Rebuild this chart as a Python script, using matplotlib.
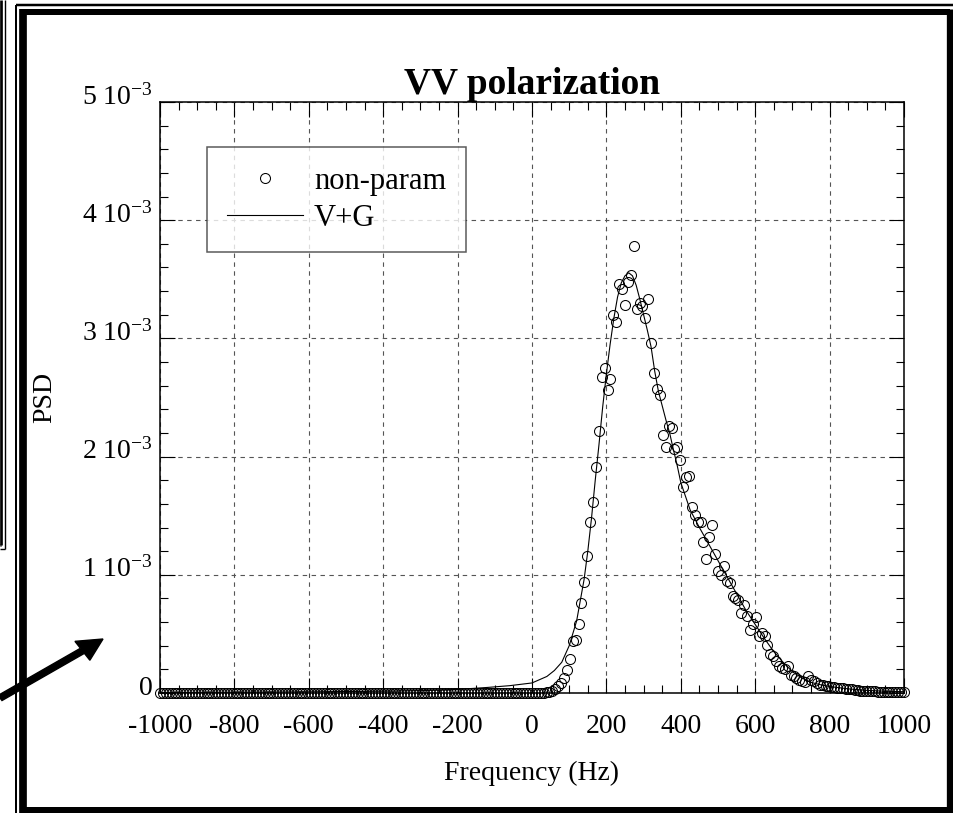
import numpy as np
import matplotlib
matplotlib.use("Agg")
import matplotlib.pyplot as plt
from matplotlib.lines import Line2D
from matplotlib.patches import FancyArrow
from matplotlib.ticker import MultipleLocator
from matplotlib.transforms import ScaledTranslation

plt.rcParams["font.family"] = ["Liberation Serif", "DejaVu Serif"]
plt.rcParams["mathtext.fontset"] = "custom"
plt.rcParams["mathtext.rm"] = "Liberation Serif"
plt.rcParams["mathtext.it"] = "Liberation Serif:italic"
plt.rcParams["mathtext.bf"] = "Liberation Serif:bold"
plt.rcParams["axes.unicode_minus"] = False

W, H = 954, 813
SCALE = 1e-3          # values below are in units of 1e-3
BIN_HZ = 7.8125       # FFT bin spacing, first bin at -1000 Hz

# non-parametric PSD estimate, one value per bin (-1000 ... 1000 Hz)
psd_nonparam = [
    0, 0, 0, 0, 0, 0, 0, 0, 0, 0, 0, 0, 0, 0, 0, 0, 0, 0, 0, 0, 0, 0,
    0, 0, 0, 0, 0, 0, 0, 0, 0, 0, 0, 0, 0, 0, 0, 0, 0, 0, 0, 0, 0, 0,
    0, 0, 0, 0, 0, 0, 0, 0, 0, 0, 0, 0, 0, 0, 0, 0, 0, 0, 0, 0, 0, 0,
    0, 0, 0, 0, 0, 0, 0, 0, 0, 0, 0, 0, 0, 0, 0, 0, 0, 0, 0, 0, 0, 0,
    0, 0, 0, 0, 0, 0, 0, 0, 0, 0, 0, 0, 0, 0, 0, 0, 0, 0, 0, 0, 0, 0,
    0, 0, 0, 0, 0, 0, 0, 0, 0, 0, 0, 0, 0, 0, 0, 0, 0, 0, 0, 0, 0, 0,
    0.003, 0.006, 0.012, 0.020, 0.035, 0.056, 0.081, 0.123, 0.194, 0.284,
    0.440, 0.450, 0.586, 0.760, 0.935, 1.163, 1.450, 1.615, 1.915, 2.215,
    2.670, 2.750, 2.560, 2.660, 3.200, 3.140, 3.460, 3.420, 3.280, 3.480,
    3.536, 3.780, 3.246, 3.300, 3.270, 3.170, 3.336, 2.964, 2.710, 2.570,
    2.520, 2.186, 2.085, 2.260, 2.243, 2.065, 2.085,
    1.970, 1.746, 1.830, 1.840, 1.570, 1.507, 1.448, 1.450, 1.281, 1.133,
    1.324, 1.425, 1.177, 1.036, 1.000, 1.073, 0.950, 0.930, 0.817, 0.800,
    0.783, 0.676, 0.746, 0.648, 0.535, 0.580, 0.640, 0.484, 0.507, 0.484,
    0.408, 0.332, 0.310, 0.270, 0.225, 0.210, 0.200, 0.225, 0.155, 0.140,
    0.130, 0.112, 0.100, 0.090, 0.140, 0.110, 0.098, 0.085, 0.070, 0.065,
    0.060, 0.056, 0.050,
    0.050, 0.045, 0.045, 0.040, 0.035, 0.030, 0.030, 0.025, 0.025, 0.020,
    0.020, 0.020, 0.015, 0.015, 0.015, 0.012, 0.012, 0.010, 0.010, 0.010,
    0.008, 0.008, 0.008, 0.007, 0.007,
]

# V+G model curve
vg_freq = [-1000, -800, -600, -400, -300, -200, -120, -60, 0,
           40, 60, 80, 100, 120, 140,
           150, 160, 170, 180, 190, 200, 210, 220, 230, 240, 250, 260, 270,
           280, 290, 300, 310, 320, 330, 340, 350, 360, 370, 380, 390, 400,
           425, 450, 475, 500, 525, 550, 575, 600, 625, 650, 675, 700, 725,
           750, 775, 800, 850, 900, 950, 1000]
vg_psd = [0.005, 0.007, 0.010, 0.015, 0.020, 0.030, 0.047, 0.062, 0.085,
          0.14, 0.19, 0.26, 0.40, 0.61, 0.96,
          1.20, 1.48, 1.80, 2.10, 2.42, 2.70, 2.95, 3.17, 3.35, 3.47, 3.53,
          3.555, 3.53, 3.45, 3.33, 3.20, 3.07, 2.93, 2.72, 2.55, 2.43, 2.31,
          2.20, 2.06, 1.93, 1.78,
          1.55, 1.40, 1.26, 1.12, 0.98, 0.84, 0.70, 0.58, 0.46, 0.35, 0.26,
          0.18, 0.13, 0.09, 0.07, 0.055, 0.035, 0.022, 0.015, 0.011]

xtick_vals = [-1000, -800, -600, -400, -200, 0, 200, 400, 600, 800, 1000]
ytick_vals = [0, 1, 2, 3, 4, 5]
ytick_labels = ["0", r"1 10$^{-3}$", r"2 10$^{-3}$", r"3 10$^{-3}$",
                r"4 10$^{-3}$", r"5 10$^{-3}$"]


def fx(px):
    return px / W


def fy(py):
    return 1 - py / H


def frame_line(fig, x0, y0, x1, y1, lw_px):
    fig.add_artist(Line2D([fx(x0), fx(x1)], [fy(y0), fy(y1)],
                          transform=fig.transFigure, color="black",
                          lw=lw_px * 0.72, solid_capstyle="butt"))


freq_hz = -1000 + BIN_HZ * np.arange(len(psd_nonparam))
psd = np.array(psd_nonparam) * SCALE

fig = plt.figure(figsize=(W / 100, H / 100), dpi=100)
ax = fig.add_axes([fx(160), fy(693), fx(904) - fx(160), fy(102) - fy(693)])

ax.plot(np.array(vg_freq), np.array(vg_psd) * SCALE, color="black", lw=0.8,
        label="V+G", zorder=3)
ax.plot(freq_hz, psd, linestyle="none", marker="o", markersize=7.2,
        markerfacecolor="none", markeredgecolor="black", markeredgewidth=0.75,
        label="non-param", clip_on=False, zorder=4)

ax.set_xlim(-1000, 1000)
ax.set_ylim(0, 5 * SCALE)
ax.set_xticks(xtick_vals)
ax.set_xticklabels([str(v) for v in xtick_vals])
ax.set_yticks([v * SCALE for v in ytick_vals])
ax.set_yticklabels(ytick_labels)
ax.xaxis.set_minor_locator(MultipleLocator(50))
ax.yaxis.set_minor_locator(MultipleLocator(0.2 * SCALE))
ax.tick_params(which="both", direction="in", top=True, right=True,
               width=0.8, labelsize=20)
ax.tick_params(which="major", length=11)
ax.tick_params(which="minor", length=6)
ax.tick_params(axis="x", which="major", pad=15)
ax.tick_params(axis="y", which="major", pad=5)
for lab in ax.get_yticklabels():
    lab.set_transform(lab.get_transform()
                      + ScaledTranslation(0, 0.08, fig.dpi_scale_trans))
for sp in ax.spines.values():
    sp.set_linewidth(1.1)

ax.grid(True, which="major", color="#555555", linestyle=(0, (4, 4)), lw=0.8)
ax.set_axisbelow(True)

ax.set_title("VV polarization", fontsize=27, fontweight="bold", pad=6)
ax.set_xlabel("Frequency (Hz)", fontsize=20, labelpad=16)
ax.set_ylabel("PSD", fontsize=20, labelpad=18)

handles, labels = ax.get_legend_handles_labels()
leg = ax.legend(handles[::-1], labels[::-1], loc="upper left",
                bbox_to_anchor=(fx(207), fy(147)),
                bbox_transform=fig.transFigure, fontsize=22, numpoints=1,
                frameon=True, fancybox=False, borderpad=0.65,
                handlelength=2.5, handletextpad=0.35, labelspacing=0.25,
                borderaxespad=0)
leg.get_frame().set_edgecolor("#333333")
leg.get_frame().set_linewidth(1.1)

# page frames around the figure
frame_line(fig, 16.5, 5.3, 16.5, 813, 2)
frame_line(fig, 16.5, 5.3, 954, 5.3, 2.5)
frame_line(fig, 22.9, 12, 950.4, 12, 6)
frame_line(fig, 22.9, 809.5, 950.4, 809.5, 7)
frame_line(fig, 22.9, 9, 22.9, 813, 7.7)
frame_line(fig, 950.4, 9, 950.4, 813, 7.3)

# neighbouring box on the left edge
frame_line(fig, 1.3, 0, 1.3, 545, 2.7)
frame_line(fig, 5.0, 0, 5.0, 549, 1.4)
frame_line(fig, 0, 545, 1.3, 545, 2.7)
frame_line(fig, 0, 549, 5.0, 549, 1.4)

# pointer arrow coming from the left
fig.add_artist(FancyArrow(fx(0), fy(698), fx(103) - fx(0), fy(639) - fy(698),
                          width=0.0075, head_width=0.028, head_length=0.026,
                          length_includes_head=True, color="black",
                          transform=fig.transFigure))

fig.savefig("out.png", dpi=100)
